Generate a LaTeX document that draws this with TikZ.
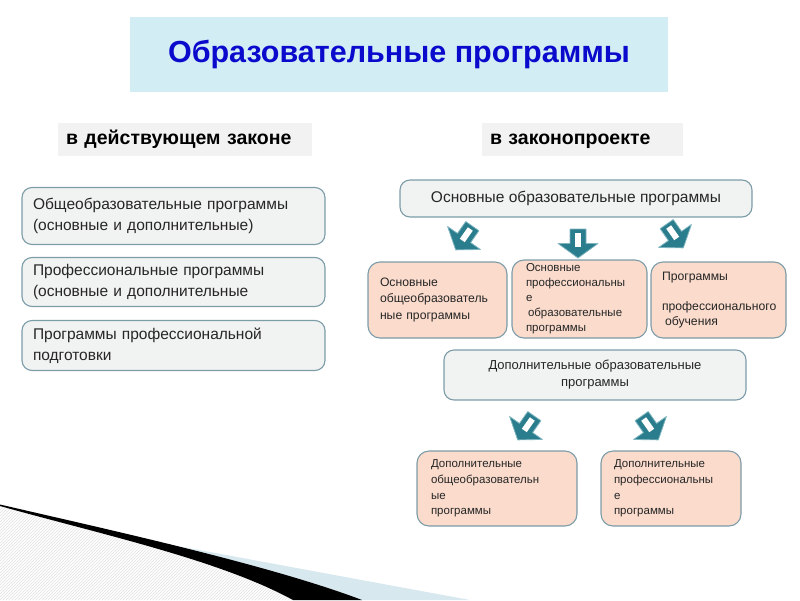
\documentclass[tikz,border=0pt]{standalone}
\usepackage{fontspec}
\setmainfont{Liberation Sans}
\usetikzlibrary{patterns}
\definecolor{titlebg}{HTML}{D3EDF5}
\definecolor{titlefg}{HTML}{0A0ACC}
\definecolor{hdrbg}{HTML}{F2F2F2}
\definecolor{boxbg}{HTML}{F1F2F2}
\definecolor{boxline}{HTML}{7C9CA8}
\definecolor{peach}{HTML}{FADBCC}
\definecolor{arrowteal}{HTML}{2A7D8C}
\definecolor{arrowlite}{HTML}{7FB5C0}
\definecolor{swoosh}{HTML}{D8E8EF}
\definecolor{txt}{HTML}{262626}
\tikzset{
  titlebox/.style={fill=titlebg, draw=none, minimum width=538, minimum height=75, inner sep=0,
    text=titlefg, font=\fontsize{30.5}{34}\selectfont\bfseries},
  hdrbox/.style={fill=hdrbg, draw=none, minimum height=33, inner xsep=8, inner ysep=0,
    text height=14, text depth=4,
    align=left, font=\fontsize{19.5}{22}\selectfont\bfseries, text=black},
  leftbox/.style={fill=boxbg, draw=boxline, line width=1.1pt, rounded corners=10,
    minimum width=303, inner xsep=11, inner ysep=0, text width=281, align=left,
    font=\fontsize{15.5}{21}\selectfont, text=txt},
  graybox/.style={fill=boxbg, draw=boxline, line width=1.1pt, rounded corners=10,
    inner sep=0, align=center, text=txt},
  peachbox/.style={fill=peach, draw=boxline, line width=1.1pt, rounded corners=12,
    inner ysep=0, align=left, font=\fontsize{12}{15}\selectfont, text=txt},
  blockarrow/.pic={
    \fill[arrowteal, draw=arrowlite, line width=0.8pt, line join=round]
      (-8,-14.5) -- (8,-14.5) -- (8,0) -- (20,0) -- (0,14.5) -- (-20,0) -- (-8,0) -- cycle;
    \fill[white] (-3,-11) rectangle (3,3);
  }
}
\begin{document}
\begin{tikzpicture}[x=1pt,y=-1pt]
\useasboundingbox (0,0) rectangle (800,600);

% bottom-left decoration
\fill[pattern=north east lines, pattern color=gray!25]
  (0,506) .. controls (100,534) and (220,560) .. (293,600) -- (0,600) -- cycle;
\fill[swoosh] (80,528) -- (470,600) -- (360,600) .. controls (330,585) and (200,550) .. cycle;
\fill[black] (0,504.5) .. controls (110,530) and (270,565) .. (362,600) -- (293,600)
  .. controls (220,560) and (100,534) .. (0,506) -- cycle;

% title and headers
\node[titlebox] (title) at (399,54.5) {Образовательные программы};
\node[hdrbox, minimum width=254, text width=238] (hleft) at (185,139.5) {в действующем законе};
\node[hdrbox, minimum width=201, text width=185] (hright) at (582.5,139.5) {в законопроекте};

% left column
\node[leftbox, minimum height=57] (l1) at (173.5,216)
  {Общеобразовательные программы\\(основные и дополнительные)};
\node[leftbox, minimum height=49] (l2) at (173.5,282)
  {Профессиональные программы\\(основные и дополнительные};
\node[leftbox, minimum height=50] (l3) at (173.5,345.5)
  {Программы профессиональной\\подготовки};

% right column
\node[graybox, minimum width=352, minimum height=37, font=\fontsize{15.5}{18}\selectfont] (main)
  at (576,198.5) {Основные образовательные программы};

\node[peachbox, minimum width=139, minimum height=76, inner xsep=12, text width=115,
  font=\fontsize{12.2}{16.5}\selectfont] (pa) at (437.5,300)
  {Основные\\общеобразователь\\ные программы};
\node[peachbox, minimum width=135, minimum height=78, inner xsep=14, text width=107,
  font=\fontsize{11.5}{15}\selectfont] (pb) at (579.5,299)
  {Основные\\профессиональны\\е\\\hspace*{2pt}образовательные\\программы};
\node[peachbox, minimum width=135, minimum height=76, inner xsep=11, text width=113,
  font=\fontsize{12.2}{15}\selectfont] (pc) at (718.5,300)
  {Программы\\[15pt]профессионального\\\hspace*{3pt}обучения};

\node[graybox, minimum width=302, minimum height=50, font=\fontsize{13}{17}\selectfont] (dop)
  at (595,375) {Дополнительные образовательные\\программы};

\node[peachbox, minimum width=160, minimum height=75, inner xsep=14, text width=132,
  font=\fontsize{11.5}{15.7}\selectfont] (pd) at (497,488.5)
  {Дополнительные\\общеобразовательн\\ые\\программы};
\node[peachbox, minimum width=140, minimum height=75, inner xsep=13, text width=114,
  font=\fontsize{11.5}{15.7}\selectfont] (pe) at (671,488.5)
  {Дополнительные\\профессиональны\\е\\программы};

% block arrows
\pic[rotate=-35] at (464,238) {blockarrow};
\pic at (578,243.5) {blockarrow};
\pic[rotate=35] at (675,236) {blockarrow};
\pic[rotate=-35] at (526,428) {blockarrow};
\pic[rotate=35] at (650,428) {blockarrow};
\end{tikzpicture}
\end{document}
